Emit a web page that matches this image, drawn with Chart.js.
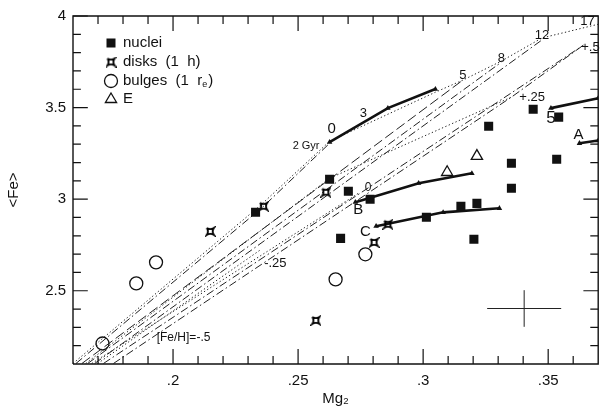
<!DOCTYPE html>
<html>
<head>
<meta charset="utf-8">
<script src="https://cdn.jsdelivr.net/npm/chart.js@4/dist/chart.umd.min.js"></script>
<style>
  html, body { margin: 0; padding: 0; background: #fff; }
</style>
</head>
<body>
<canvas id="grafica" width="606" height="412"></canvas>
<script>
// Datos: [Mg2, <Fe>]
var nuclei = [[0.233, 2.928], [0.2626, 3.109], [0.2701, 3.043], [0.2788, 2.999], [0.267, 2.786],
  [0.3013, 2.901], [0.3151, 2.961], [0.3215, 2.977], [0.3203, 2.781], [0.3262, 3.398],
  [0.3353, 3.196], [0.3353, 3.06], [0.344, 3.491], [0.3542, 3.448], [0.3534, 3.218]];
var disks = [[0.2362, 2.961], [0.2149, 2.824], [0.2611, 3.038], [0.2859, 2.863], [0.2804, 2.764], [0.2571, 2.338]];
var bulges = [[0.1718, 2.212], [0.1853, 2.54], [0.1932, 2.655], [0.265, 2.562], [0.2769, 2.699]];
var elipticas = [[0.3096, 3.147], [0.3215, 3.235]];

// trazas de los modelos (lineas gruesas)
var track0 = [[0.2626, 3.311], [0.2859, 3.497], [0.3049, 3.601]];
var trackB = [[0.2729, 2.983], [0.2982, 3.087], [0.3195, 3.141]];
var trackC = [[0.2812, 2.852], [0.308, 2.928], [0.3305, 2.95]];
var track5 = [[0.3511, 3.497], [0.37, 3.551]];
var trackA = [[0.3625, 3.305], [0.37, 3.32]];

// rejilla de edad / metalicidad
var edades = [[0.16, 2.103], [0.235, 2.967], [0.2626, 3.316], [0.3049, 3.584], [0.3159, 3.65],
  [0.3313, 3.754], [0.3475, 3.88], [0.37, 3.955]];
var fehP25 = [[0.1651, 2.103], [0.2626, 3.114], [0.3353, 3.557]];
var feh0 = [[0.1675, 2.103], [0.2741, 3.032]];
var fehM25 = [[0.1699, 2.103], [0.2346, 2.72]];
var edad1 = [[0.1612, 2.103], [0.2358, 2.956], [0.2626, 3.305]];
var edad2 = [[0.1636, 2.103], [0.3159, 3.65]];
var edad3 = [[0.1659, 2.103], [0.3313, 3.748]];
var edad4 = [[0.1687, 2.103], [0.3475, 3.869]];
var edad5 = [[0.1722, 2.103], [0.3641, 3.841]];
var edad6 = [[0.1762, 2.103], [0.3353, 3.557], [0.3641, 3.841]];

// barra de error tipica
var errCentro = [0.3404, 2.403];
var errTam = [0.0148, 0.10];

// etiquetas dentro del grafico: [texto, Mg2, <Fe>]
var etiquetas = [['0', 0.2634, 3.382], ['2 Gyr', 0.2532, 3.289], ['3', 0.2761, 3.47], ['5', 0.3159, 3.677],
  ['8', 0.3313, 3.77], ['12', 0.3475, 3.896], ['17', 0.3657, 3.973], ['+.5', 0.3669, 3.831],
  ['+.25', 0.3436, 3.557], ['-.25', 0.2409, 2.649], ['[Fe/H]=-.5', 0.2042, 2.245], ['0', 0.278, 3.06],
  ['B', 0.2741, 2.939], ['C', 0.2769, 2.824], ['5', 0.3511, 3.442], ['A', 0.3621, 3.349]];

// ejes
var xRango = [0.16, 0.37];
var yRango = [2.1, 4];
var xTicks = [0.2, 0.25, 0.3, 0.35];
var xMenores = [0.17, 0.18, 0.19, 0.21, 0.22, 0.23, 0.24, 0.26, 0.27, 0.28, 0.29, 0.31, 0.32, 0.33, 0.34, 0.36];
var yTicks = [2.5, 3, 3.5, 4];
var yMenores = [2.2, 2.3, 2.4, 2.6, 2.7, 2.8, 2.9, 3.1, 3.2, 3.3, 3.4, 3.6, 3.7, 3.8, 3.9];

var FUENTE = '"Liberation Sans", Arial, sans-serif';
var NEGRO = '#111';
var tamEtiquetas = [15, 11, 13, 13, 13, 13, 13, 13, 13, 13, 12, 12, 15, 15, 17, 15];

function puntos(a) {
  return a.map(function(p) { return { x: p[0], y: p[1] }; });
}

// simbolo de los discos (cuadrado con lados concavos)
function simboloDisco() {
  var c = document.createElement('canvas');
  c.width = 11; c.height = 11;
  var g = c.getContext('2d');
  g.translate(5.5, 5.5);
  var r = 3.6, k = 1.2;
  g.beginPath();
  g.moveTo(-r, -r);
  g.quadraticCurveTo(0, -k, r, -r);
  g.quadraticCurveTo(k, 0, r, r);
  g.quadraticCurveTo(0, k, -r, r);
  g.quadraticCurveTo(-k, 0, -r, -r);
  g.lineWidth = 1.8;
  g.strokeStyle = '#000';
  g.stroke();
  return c;
}
var disco = simboloDisco();

function linea(data, dash, ancho) {
  return {
    data: puntos(data), showLine: true, borderColor: '#222', borderWidth: ancho || 1,
    borderDash: dash || [], pointRadius: 0, pointHoverRadius: 0, fill: false
  };
}
function traza(data) {
  return {
    data: puntos(data), showLine: true, borderColor: NEGRO, borderWidth: 2.6,
    pointStyle: 'triangle', pointRadius: 3.2, backgroundColor: NEGRO, pointBorderColor: NEGRO,
    pointBorderWidth: 0, fill: false
  };
}

// marco y marcas hacia dentro, dibujados como lineas sobre las escalas
// (largo de las marcas en pixeles pasado a unidades del eje)
function marcasEjes() {
  var anchoPx = 532, altoPx = 347;
  var dx = function(px) { return (xRango[1] - xRango[0]) * px / anchoPx; };
  var dy = function(px) { return (yRango[1] - yRango[0]) * px / altoPx; };
  var d = [];
  var corte = { x: null, y: null };
  xTicks.concat(xMenores).forEach(function(v) {
    var l = dy(xTicks.indexOf(v) >= 0 ? 15 : 8);
    d.push({ x: v, y: yRango[0] }, { x: v, y: yRango[0] + l }, corte);
    d.push({ x: v, y: yRango[1] }, { x: v, y: yRango[1] - l }, corte);
  });
  yTicks.concat(yMenores).forEach(function(v) {
    var l = dx(yTicks.indexOf(v) >= 0 ? 15 : 8);
    d.push({ x: xRango[0], y: v }, { x: xRango[0] + l, y: v }, corte);
    d.push({ x: xRango[1], y: v }, { x: xRango[1] - l, y: v }, corte);
  });
  return d;
}
var marco = [[xRango[0], yRango[0]], [xRango[1], yRango[0]], [xRango[1], yRango[1]], [xRango[0], yRango[1]], [xRango[0], yRango[0]]];

var PUNTOS = [1.3, 2.4];
var RAYAPUNTO = [8, 3, 1.5, 3];
var RAYA = [10, 4];

var datasets = [
  { data: puntos(marco), showLine: true, borderColor: NEGRO, borderWidth: 1.4, pointRadius: 0, fill: false, clip: false },
  { data: marcasEjes(), showLine: true, spanGaps: false, borderColor: NEGRO, borderWidth: 1.2, pointRadius: 0, fill: false, clip: false },
  { data: puntos(nuclei), pointStyle: 'rect', pointRadius: 6.4, backgroundColor: NEGRO, borderColor: NEGRO, borderWidth: 0 },
  { data: puntos(disks), pointStyle: disco, pointRadius: 6 },
  { data: puntos(bulges), pointStyle: 'circle', pointRadius: 6.5, backgroundColor: 'rgba(0,0,0,0)', borderColor: NEGRO, borderWidth: 1.3 },
  { data: puntos(elipticas), pointStyle: 'triangle', pointRadius: 6.5, backgroundColor: 'rgba(0,0,0,0)', borderColor: NEGRO, borderWidth: 1.3 },
  traza(track0), traza(trackB), traza(trackC), traza(track5), traza(trackA),
  linea([[errCentro[0] - errTam[0], errCentro[1]], [errCentro[0] + errTam[0], errCentro[1]]], [], 1),
  linea([[errCentro[0], errCentro[1] - errTam[1]], [errCentro[0], errCentro[1] + errTam[1]]], [], 1),
  linea(edades, PUNTOS), linea(fehP25, PUNTOS), linea(feh0, PUNTOS), linea(fehM25, PUNTOS),
  linea(edad1, RAYAPUNTO), linea(edad2, RAYA), linea(edad3, RAYAPUNTO), linea(edad4, RAYAPUNTO),
  linea(edad5, RAYAPUNTO), linea(edad6, RAYAPUNTO)
];

// textos de la rejilla y leyenda
var textos = {
  id: 'textos',
  afterDraw: function(chart) {
    var ctx = chart.ctx, a = chart.chartArea, sx = chart.scales.x, sy = chart.scales.y;
    ctx.save();
    ctx.fillStyle = NEGRO;
    ctx.textAlign = 'center';
    ctx.textBaseline = 'middle';
    for (var i = 0; i < etiquetas.length; i++) {
      ctx.font = tamEtiquetas[i] + 'px ' + FUENTE;
      ctx.fillText(etiquetas[i][0], sx.getPixelForValue(etiquetas[i][1]), sy.getPixelForValue(etiquetas[i][2]));
    }

    // leyenda
    var mx = a.left + 38, tx = a.left + 50;
    var filas = [a.top + 27, a.top + 46, a.top + 65, a.top + 83];
    ctx.strokeStyle = NEGRO;
    ctx.lineWidth = 1.3;
    ctx.fillRect(mx - 4.5, filas[0] - 4.5, 9, 9);
    ctx.drawImage(disco, mx - 5.5, filas[1] - 5.5);
    ctx.beginPath(); ctx.arc(mx, filas[2], 6.5, 0, Math.PI * 2); ctx.stroke();
    ctx.beginPath();
    ctx.moveTo(mx, filas[3] - 6); ctx.lineTo(mx + 5.6, filas[3] + 3.5); ctx.lineTo(mx - 5.6, filas[3] + 3.5);
    ctx.closePath(); ctx.stroke();

    ctx.textAlign = 'left';
    ctx.font = '15px ' + FUENTE;
    ctx.fillText('nuclei', tx, filas[0]);
    ctx.fillText('disks  (1  h)', tx, filas[1]);
    var t = 'bulges  (1  r';
    ctx.fillText(t, tx, filas[2]);
    var w = ctx.measureText(t).width;
    ctx.font = '9px ' + FUENTE;
    ctx.fillText('e', tx + w, filas[2] + 4);
    var we = ctx.measureText('e').width;
    ctx.font = '15px ' + FUENTE;
    ctx.fillText(')', tx + w + we + 1, filas[2]);
    ctx.fillText('E', tx, filas[3]);
    ctx.restore();
  }
};

function formato(v) {
  return String(v).replace(/^0\./, '.');
}

new Chart(document.getElementById('grafica').getContext('2d'), {
  type: 'scatter',
  data: { datasets: datasets },
  options: {
    responsive: false,
    animation: false,
    events: [],
    layout: { padding: { top: 15, right: 1, left: 0, bottom: 0 } },
    plugins: { legend: { display: false }, tooltip: { enabled: false } },
    scales: {
      x: {
        type: 'linear', position: 'bottom', min: xRango[0], max: xRango[1],
        afterBuildTicks: function(s) { s.ticks = xTicks.map(function(v) { return { value: v }; }); },
        afterFit: function(s) { s.height = 48; },
        grid: { display: false, drawTicks: false },
        border: { display: false },
        ticks: { padding: 8, color: NEGRO, font: { family: FUENTE, size: 15 }, callback: formato },
        title: { display: true, text: 'Mg₂', color: NEGRO, font: { family: FUENTE, size: 15 }, padding: { top: 0, bottom: 4 } }
      },
      y: {
        type: 'linear', position: 'left', min: yRango[0], max: yRango[1],
        afterBuildTicks: function(s) { s.ticks = yTicks.map(function(v) { return { value: v }; }); },
        afterFit: function(s) { s.width = 73; },
        grid: { display: false, drawTicks: false },
        border: { display: false },
        ticks: { padding: 7, color: NEGRO, font: { family: FUENTE, size: 15 }, callback: formato },
        title: { display: true, text: '<Fe>', color: NEGRO, font: { family: FUENTE, size: 15 }, padding: { top: 5, bottom: 0 } }
      }
    }
  },
  plugins: [textos]
});
</script>
</body>
</html>
